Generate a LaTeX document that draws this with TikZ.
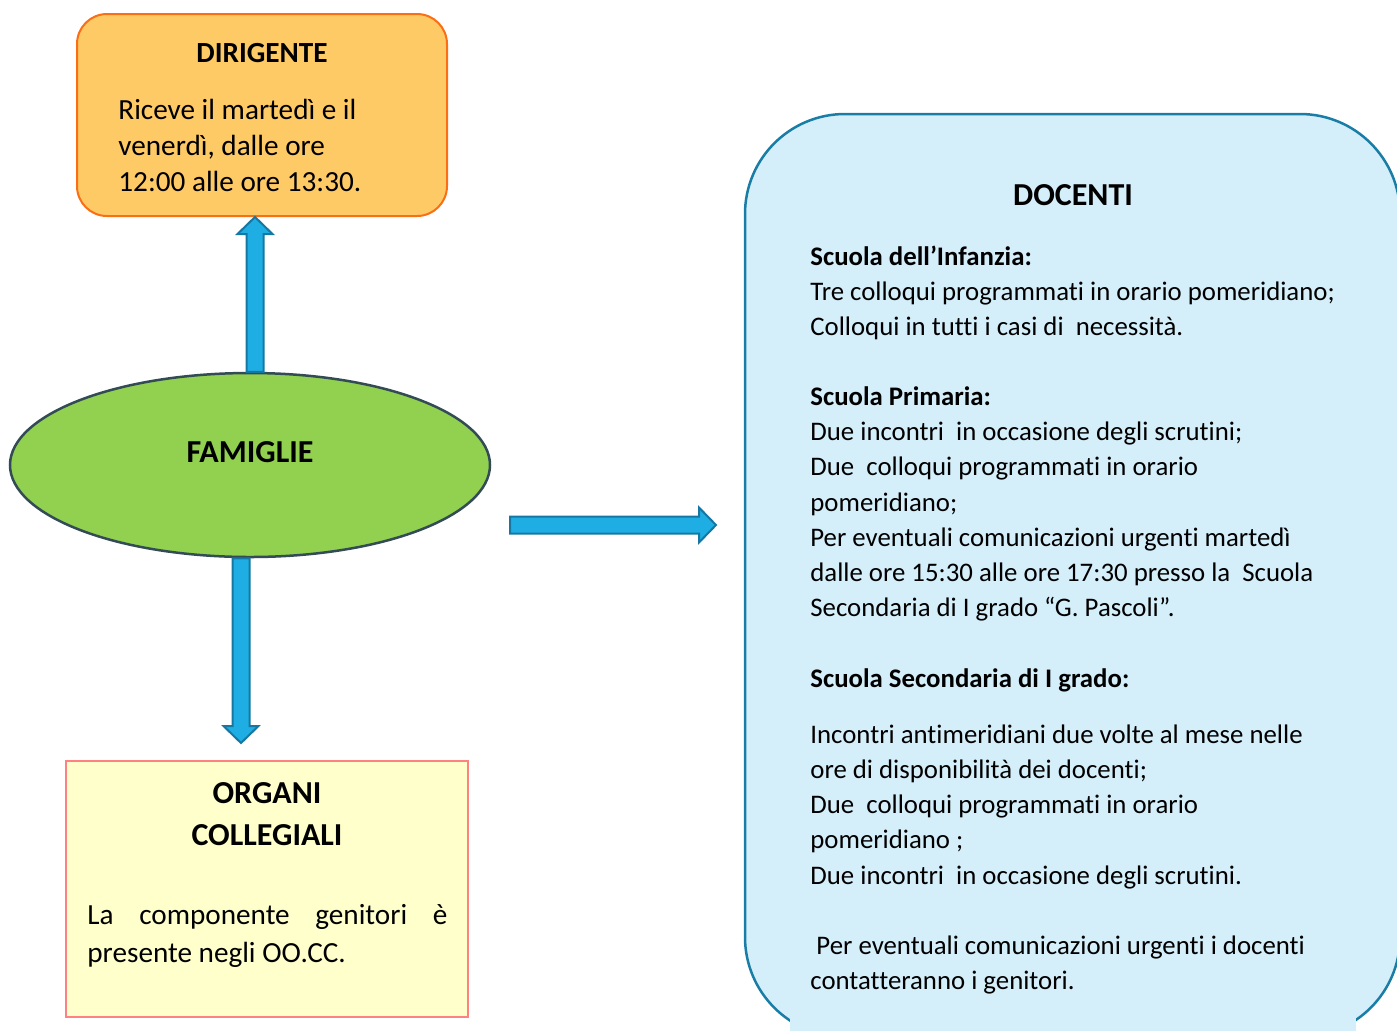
\documentclass[tikz,border=0pt]{standalone}
\usepackage{fontspec}
\setmainfont{Carlito}[Ligatures=NoCommon]
\usetikzlibrary{shapes.geometric,calc}
\definecolor{DirFill}{RGB}{254,202,102}
\definecolor{DirLine}{RGB}{250,110,20}
\definecolor{FamFill}{RGB}{146,208,80}
\definecolor{FamLine}{RGB}{50,75,85}
\definecolor{OrgFill}{RGB}{255,255,204}
\definecolor{OrgLine}{RGB}{255,130,130}
\definecolor{DocFill}{RGB}{212,238,250}
\definecolor{DocLine}{RGB}{25,125,165}
\definecolor{ArrowFill}{RGB}{31,174,227}
\definecolor{ArrowLine}{RGB}{22,120,162}
% block arrow from #1 to #2
\newcommand{\blockarrow}[2]{%
  \coordinate (hb) at ($(#2)!8.5pt!(#1)$);
  \draw[barrow] ($(#1)!4.25pt!90:(#2)$) -- ($(hb)!4.25pt!90:(#2)$)
    -- ($(hb)!8.75pt!90:(#2)$) -- (#2) -- ($(hb)!8.75pt!-90:(#2)$)
    -- ($(hb)!4.25pt!-90:(#2)$) -- ($(#1)!4.25pt!-90:(#2)$) -- cycle;
}

\begin{document}
\begin{tikzpicture}[x=0.5pt,y=-0.5pt,
  box/.style={draw,inner sep=0pt},
  txt/.style={inner sep=0pt,anchor=base west,font=\fontsize{13.4}{16}\selectfont},
  big/.style={txt,font=\fontsize{14.6}{17}\selectfont},
  ttl/.style={inner sep=0pt,anchor=base,font=\fontsize{16}{19}\selectfont\bfseries},
  barrow/.style={draw=ArrowLine,fill=ArrowFill,line width=1pt,line join=miter}]
\useasboundingbox (0,0) rectangle (1397,1030);
\clip (0,0) rectangle (1397,1030);

% boxes
\node[box,draw=DirLine,fill=DirFill,line width=1pt,rounded corners=15pt,
   minimum width=185pt,minimum height=101pt] (dir) at (262,115) {};
\node[box,ellipse,draw=FamLine,fill=FamFill,line width=1.25pt,
   minimum width=240pt,minimum height=92pt] (fam) at (250,465) {};
\node[box,draw=OrgLine,fill=OrgFill,line width=1pt,
   minimum width=201pt,minimum height=128pt] (org) at (267,889) {};
\node[box,draw=DocLine,fill=DocFill,line width=1.25pt,rounded corners=50pt,
   minimum width=327.5pt,minimum height=461.5pt] (doc) at (1072.5,575.5) {};
\fill[DocFill] (790,1018) rectangle (1356,1035);

% texts
\node[ttl,font=\fontsize{14.6}{17}\selectfont\bfseries] (dirT) at (262,62) {DIRIGENTE};
\node[big] (dir1) at (118,119) {Riceve il martedì e il};
\node[big] (dir2) at (118,155) {venerdì, dalle ore};
\node[big] (dir3) at (118,191) {12:00 alle ore 13:30.};
\node[ttl] (famT) at (250,462) {FAMIGLIE};
\node[ttl] (orgT1) at (267,803) {ORGANI};
\node[ttl] (orgT2) at (267,845) {COLLEGIALI};
\node[big] (org1) at (87,924) {\makebox[180pt][s]{La componente genitori è}};
\node[big] (org2) at (87,962) {presente negli OO.CC.};
\node[ttl] (docT) at (1073,205) {DOCENTI};
\foreach \y/\t [count=\i] in {%
  265/{\textbf{Scuola dell’Infanzia:}},
  300/{Tre colloqui programmati in orario pomeridiano;},
  335/{Colloqui in tutti i casi di\ \ necessità.},
  405/{\textbf{Scuola Primaria:}},
  440/{Due incontri\ \ in occasione degli scrutini;},
  475/{Due\ \ colloqui programmati in orario},
  511/{pomeridiano;},
  546/{Per eventuali comunicazioni urgenti martedì},
  581/{dalle ore 15:30 alle ore 17:30 presso la\ \ Scuola},
  616/{Secondaria di I grado “G. Pascoli”.},
  687/{\textbf{Scuola Secondaria di I grado:}},
  743/{Incontri antimeridiani due volte al mese nelle},
  778/{ore di disponibilità dei docenti;},
  813/{Due\ \ colloqui programmati in orario},
  848/{pomeridiano ;},
  884/{Due incontri\ \ in occasione degli scrutini.},
  954/{\ Per eventuali comunicazioni urgenti i docenti},
  989/{contatteranno i genitori.}} {
   \node[txt] (doc\i) at (810,\y) {\t};
}

% arrows
\coordinate (upS) at ($(fam.north)+(5,0)$);
\coordinate (upE) at (upS |- dir.south);
\coordinate (dnS) at ($(fam.south)+(-9,0)$);
\coordinate (dnE) at (241,743);
\coordinate (rtS) at (510,525);
\coordinate (rtE) at (716,525);
\blockarrow{upS}{upE}
\blockarrow{dnS}{dnE}
\blockarrow{rtS}{rtE}
\end{tikzpicture}
\end{document}
